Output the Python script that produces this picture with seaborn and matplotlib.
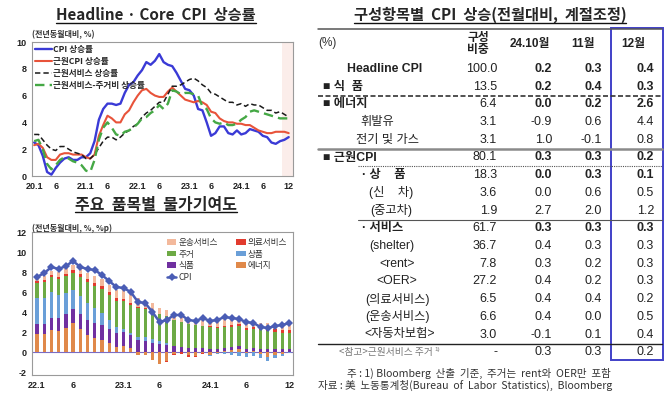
import numpy as np
import pandas as pd
import seaborn as sns
import matplotlib.pyplot as plt
from matplotlib.patches import Rectangle

sns.set_theme(style="white")
plt.rcParams['font.family'] = ['Liberation Sans', 'Noto Sans CJK KR', 'DejaVu Sans']
plt.rcParams['axes.unicode_minus'] = False
KR = ['Noto Sans CJK KR', 'DejaVu Sans']

# ---- top chart: YoY, 2020.1 ~ 2024.12
cpi_yoy = [2.5, 2.3, 1.5, 0.3, 0.1, 0.6, 1.0, 1.3, 1.4, 1.2, 1.2, 1.4,
           1.4, 1.7, 2.6, 4.2, 5.0, 5.4, 5.4, 5.3, 5.4, 6.2, 6.8, 7.0,
           7.5, 7.9, 8.5, 8.3, 8.6, 9.1, 8.5, 8.3, 8.2, 7.7, 7.1, 6.5,
           6.4, 6.0, 5.0, 4.9, 4.0, 3.0, 3.2, 3.7, 3.7, 3.2, 3.1, 3.4,
           3.1, 3.2, 3.5, 3.4, 3.3, 3.0, 2.9, 2.5, 2.4, 2.6, 2.7, 2.9]
core_yoy = [2.3, 2.4, 2.1, 1.4, 1.2, 1.2, 1.6, 1.7, 1.7, 1.6, 1.6, 1.6,
            1.4, 1.3, 1.6, 3.0, 3.8, 4.5, 4.3, 4.0, 4.0, 4.6, 4.9, 5.5,
            6.0, 6.4, 6.5, 6.2, 6.0, 5.9, 5.9, 6.3, 6.6, 6.3, 6.0, 5.7,
            5.6, 5.5, 5.6, 5.5, 5.3, 4.8, 4.7, 4.3, 4.1, 4.0, 4.0, 3.9,
            3.9, 3.8, 3.8, 3.6, 3.4, 3.3, 3.2, 3.2, 3.3, 3.3, 3.3, 3.2]
coresvc_yoy = [3.1, 3.1, 2.7, 2.3, 2.0, 1.9, 2.2, 2.2, 2.0, 1.8, 1.7, 1.6,
               1.3, 1.3, 1.6, 2.1, 2.6, 2.9, 2.9, 2.7, 2.9, 3.2, 3.4, 3.7,
               3.9, 4.4, 4.7, 4.9, 5.2, 5.5, 5.5, 6.1, 6.7, 6.7, 6.8, 7.0,
               7.2, 7.3, 7.1, 6.8, 6.6, 6.2, 6.1, 5.9, 5.7, 5.5, 5.5, 5.3,
               5.4, 5.2, 5.4, 5.3, 5.3, 5.1, 4.9, 4.9, 4.7, 4.8, 4.6, 4.4]
supercore_yoy = [2.6, 2.7, 2.0, 0.9, 0.5, 0.8, 1.2, 1.4, 1.3, 1.1, 1.0, 0.8,
                 0.4, 0.3, 1.2, 2.7, 3.6, 4.0, 3.6, 3.1, 3.0, 3.3, 3.4, 3.6,
                 3.9, 4.3, 4.4, 4.7, 4.9, 5.3, 5.0, 5.4, 6.4, 6.3, 6.1, 6.2,
                 6.2, 6.1, 6.0, 5.2, 5.0, 4.3, 4.0, 3.9, 4.0, 3.8, 3.8, 3.9,
                 4.2, 4.4, 4.8, 4.9, 4.8, 4.7, 4.6, 4.5, 4.4, 4.3, 4.3, 4.3]
top_ticks = ["20.1", "6", "21.1", "6", "22.1", "6", "23.1", "6", "24.1", "6", "12"]

# ---- bottom chart: contributions, 2022.1 ~ 2024.12
energy_c = [1.8, 1.8, 2.2, 2.1, 2.4, 2.9, 2.3, 1.7, 1.4, 1.2, 0.9, 0.5,
            0.6, 0.4, -0.3, -0.3, -0.8, -1.2, -0.9, -0.2, 0.0, -0.3, -0.4, -0.1,
            -0.3, -0.1, 0.1, 0.2, 0.3, -0.1, 0.1, -0.2, -0.5, -0.3, -0.2, 0.0]
food_c = [1.0, 1.0, 1.2, 1.3, 1.4, 1.4, 1.5, 1.5, 1.5, 1.5, 1.4, 1.4,
          1.4, 1.3, 1.2, 1.1, 0.9, 0.8, 0.7, 0.6, 0.5, 0.45, 0.4, 0.4,
          0.35, 0.3, 0.3, 0.3, 0.3, 0.3, 0.3, 0.3, 0.3, 0.3, 0.3, 0.35]
goods_c = [2.6, 2.6, 2.6, 2.3, 2.1, 1.9, 1.8, 1.7, 1.5, 1.2, 0.9, 0.6,
           0.3, 0.2, 0.3, 0.4, 0.4, 0.3, 0.2, 0.05, 0.0, 0.0, 0.0, 0.05,
           -0.05, -0.1, -0.15, -0.25, -0.35, -0.4, -0.4, -0.4, -0.4, -0.3, -0.2, -0.1]
shelter_c = [1.5, 1.6, 1.5, 1.6, 1.7, 1.7, 1.9, 2.1, 2.2, 2.4, 2.5, 2.6,
             2.8, 2.8, 2.9, 2.8, 2.8, 2.7, 2.7, 2.6, 2.5, 2.4, 2.3, 2.2,
             2.2, 2.1, 2.1, 2.0, 2.0, 1.9, 1.9, 1.9, 1.8, 1.7, 1.6, 1.6]
medical_c = [0.17, 0.16, 0.19, 0.22, 0.25, 0.28, 0.3, 0.33, 0.35, 0.33, 0.3, 0.27,
             0.22, 0.18, 0.1, 0.06, 0.04, 0.0, -0.05, -0.1, -0.15, -0.15, -0.1, -0.05,
             0.05, 0.1, 0.14, 0.18, 0.2, 0.22, 0.22, 0.2, 0.25, 0.27, 0.28, 0.28]
transport_c = [0.3, 0.4, 0.45, 0.5, 0.55, 0.55, 0.55, 0.6, 0.65, 0.7, 0.75, 0.8,
               0.9, 0.95, 0.95, 0.75, 0.75, 0.6, 0.6, 0.65, 0.6, 0.6, 0.65, 0.65,
               0.65, 0.6, 0.7, 0.7, 0.65, 0.65, 0.6, 0.5, 0.55, 0.5, 0.45, 0.5]
cpi_c = cpi_yoy[24:]
bot_ticks = ["22.1", "6", "23.1", "6", "24.1", "6", "12"]

# ---- table
row_labels = ["Headline CPI", "■ 식  품", "■ 에너지", "휘발유", "전기 및 가스", "■ 근원CPI",
              "· 상    품", "(신    차)", "(중고차)", "· 서비스", "(shelter)", "<rent>", "<OER>",
              "(의료서비스)", "(운송서비스)", "<자동차보험>", "<참고>근원서비스 주거"]
weights = ["100.0", "13.5", "6.4", "3.1", "3.1", "80.1", "18.3", "3.6", "1.9", "61.7",
           "36.7", "7.8", "27.2", "6.5", "6.6", "3.0", "-"]
m_oct = [0.2, 0.2, 0.0, -0.9, 1.0, 0.3, 0.0, 0.0, 2.7, 0.3, 0.4, 0.3, 0.4, 0.4, 0.4, -0.1, 0.3]
m_nov = [0.3, 0.4, 0.2, 0.6, -0.1, 0.3, 0.3, 0.6, 2.0, 0.3, 0.3, 0.2, 0.2, 0.4, 0.0, 0.1, 0.3]
m_dec = [0.4, 0.3, 2.6, 4.4, 0.8, 0.2, 0.1, 0.5, 1.2, 0.3, 0.3, 0.3, 0.3, 0.2, 0.5, 0.4, 0.2]
bold_rows = [0, 1, 2, 5, 6, 9]
col_heads = ["24.10월", "11월", "12월"]

W, H = 670, 393
fig = plt.figure(figsize=(W / 100, H / 100), dpi=100)


def rect(l, t, r, b):
    return [l / W, 1 - b / H, (r - l) / W, (b - t) / H]


def style_axes(ax):
    for s in ax.spines.values():
        s.set_color('#9a9a9a')
        s.set_linewidth(0.8)
    ax.tick_params(axis='both', labelsize=6.5, length=2, width=0.6, color='#9a9a9a',
                   pad=2, labelcolor='#222222')
    for lab in ax.get_xticklabels() + ax.get_yticklabels():
        lab.set_fontweight('bold')
    ax.set_xlabel('')
    ax.set_ylabel('')


# ===== top chart
ax1 = fig.add_axes(rect(32, 42, 293, 176))
df1 = pd.DataFrame({'m': np.arange(len(cpi_yoy)), 'cpi': cpi_yoy, 'core': core_yoy,
                    'svc': coresvc_yoy, 'sup': supercore_yoy})
ax1.axvspan(57.5, 60, color='#FBEDEA', lw=0, zorder=0)
sns.lineplot(data=df1, x='m', y='cpi', color='#3A3AD6', lw=1.7, label='CPI 상승률', ax=ax1)
sns.lineplot(data=df1, x='m', y='core', color='#E8533A', lw=1.5, label='근원CPI 상승률', ax=ax1)
sns.lineplot(data=df1, x='m', y='svc', color='#1a1a1a', lw=1.1, linestyle=(0, (3.5, 2)),
             label='근원서비스 상승률', ax=ax1)
sns.lineplot(data=df1, x='m', y='sup', color='#45A845', lw=1.7, linestyle=(0, (4, 2.2)),
             label='근원서비스-주거비 상승률', ax=ax1)
ax1.set_xlim(-0.5, 60)
ax1.set_ylim(0, 10)
ax1.set_xticks([0, 5, 12, 17, 24, 29, 36, 41, 48, 53, 59])
ax1.set_xticklabels(top_ticks)
ax1.set_yticks(range(0, 11, 2))
style_axes(ax1)
leg1 = ax1.legend(loc='upper left', bbox_to_anchor=(0.0, 1.0), frameon=False, fontsize=6.2,
                  handlelength=2.0, handletextpad=0.1, labelspacing=0.35, borderaxespad=0.15,
                  borderpad=0.2)
for t in leg1.get_texts():
    t.set_family(KR)
    t.set_fontweight('bold')

# ===== bottom chart
ax2 = fig.add_axes(rect(32, 232, 293, 375))
m2 = np.arange(len(cpi_c))
parts = [(energy_c, '에너지', '#E0894A'), (food_c, '식품', '#7030A0'),
         (goods_c, '상품', '#6A9FD8'), (shelter_c, '주거', '#6DAA45'),
         (medical_c, '의료서비스', '#E23B2E'), (transport_c, '운송서비스', '#F3B99C')]
pos = np.zeros(len(m2))
neg = np.zeros(len(m2))
for vals, name, col in parts:
    v = np.array(vals)
    bottom = np.where(v >= 0, pos, neg)
    sns.barplot(x=m2, y=v, bottom=bottom, color=col, width=0.45, linewidth=0, saturation=1,
                errorbar=None, native_scale=True, label=name, ax=ax2, zorder=2)
    pos += np.where(v >= 0, v, 0)
    neg += np.where(v < 0, v, 0)
ax2.axhline(0, color='#7B6CC4', lw=0.8, zorder=1)
sns.lineplot(x=m2, y=cpi_c, color='#4A5DB5', lw=1.8, marker='D', markersize=3.6,
             markeredgewidth=0, label='CPI', ax=ax2, zorder=3)
ax2.set_xlim(-0.7, 35.5)
ax2.set_ylim(-2.3, 12)
ax2.set_xticks([0, 5, 12, 17, 24, 29, 35])
ax2.set_xticklabels(bot_ticks)
ax2.set_yticks(range(-2, 13, 2))
style_axes(ax2)
hs, ls = ax2.get_legend_handles_labels()
hmap = dict(zip(ls, hs))
order = ['운송서비스', '주거', '식품', 'CPI', '의료서비스', '상품', '에너지']
leg2 = ax2.legend([hmap[k] for k in order], order, loc='upper right', bbox_to_anchor=(1.0, 1.0),
                  ncol=2, frameon=False, fontsize=6.2, handlelength=1.1, handleheight=0.6,
                  handletextpad=0.2, labelspacing=0.3, columnspacing=2.2, borderaxespad=0.3)
for t in leg2.get_texts():
    t.set_family(KR)
    t.set_color('#333333')

# ===== overlay for titles and table
ax_t = fig.add_axes([0, 0, 1, 1])
ax_t.set_xlim(0, W)
ax_t.set_ylim(H, 0)
ax_t.axis('off')

titles = [
    ax_t.text(156, 15, "Headline · Core  CPI  상승률", ha='center', va='center', fontsize=11,
              fontweight='bold', family=KR),
    ax_t.text(156, 205, "주요  품목별  물가기여도", ha='center', va='center', fontsize=11.5,
              fontweight='bold', family=KR),
    ax_t.text(490, 15, "구성항목별  CPI  상승(전월대비,  계절조정)", ha='center', va='center',
              fontsize=11, fontweight='bold', family=KR),
]
ax_t.text(32, 35, "(전년동월대비, %)", ha='left', va='center', fontsize=5.8,
          fontweight='bold', family=KR, color='#333333')
ax_t.text(32, 228, "(전년동월대비, %, %p)", ha='left', va='center', fontsize=5.8,
          fontweight='bold', family=KR, color='#333333')

# table header
ax_t.text(318, 43, "(%)", ha='left', va='center', fontsize=8.5, color='#333333')
ax_t.text(478, 43, "구성\n비중", ha='center', va='center', fontsize=8.5, fontweight='bold',
          family=KR, linespacing=0.9, color='#222222')
for x, h in zip([530, 583, 633], col_heads):
    ax_t.text(x, 44, h, ha='center', va='center', fontsize=8.5, fontweight='bold',
              color='#222222')

# label placement: (align, x)
label_pos = [('center', 385), ('left', 323), ('left', 323), ('center', 377), ('center', 388),
             ('left', 323), ('left', 362), ('center', 391), ('center', 391), ('left', 362),
             ('center', 392), ('center', 397), ('center', 397), ('center', 398),
             ('center', 398), ('center', 400), ('right', 433)]
last = len(row_labels) - 1
for i, lab in enumerate(row_labels):
    y = 69 + 17.7 * i
    b = 'bold' if i in bold_rows else 'normal'
    ha, x = label_pos[i]
    if i == last:
        ax_t.text(x, y, lab, ha=ha, va='center', fontsize=7, family=KR, color='#777777')
        ax_t.text(x + 1, y - 3, "1)", ha='left', va='center', fontsize=4.5, color='#777777')
    else:
        ax_t.text(x, y, lab, ha=ha, va='center', fontsize=8.8, fontweight=b, color='#222222')
    ax_t.text(497, y, weights[i], ha='right', va='center', fontsize=9, color='#222222')
    for x_r, vals in zip([552, 602, 654], [m_oct, m_nov, m_dec]):
        ax_t.text(x_r, y, f"{vals[i]:.1f}", ha='right', va='center', fontsize=9,
                  fontweight=b, color='#222222')

ax_t.plot([318, 662], [29, 29], color='#555555', lw=1.1)
ax_t.plot([318, 662], [95.5, 95.5], color='#333333', lw=1.2, linestyle=(0, (3, 1.5)))
ax_t.plot([318, 662], [149, 149], color='#8a8a8a', lw=1.8)
ax_t.plot([358, 662], [166, 166], color='#555555', lw=0.8, linestyle=(0, (1, 1)))
ax_t.plot([358, 662], [220, 220], color='#555555', lw=0.8)
ax_t.plot([318, 662], [343.5, 343.5], color='#222222', lw=1.0)
ax_t.add_patch(Rectangle((611, 28), 52, 332, fill=False, edgecolor='#4040C8', lw=1.4))

ax_t.text(347, 373, "주 : 1) Bloomberg  산출  기준,  주거는  rent와  OER만  포함", ha='left',
          va='center', fontsize=7.6, family=KR, color='#333333')
ax_t.text(318, 385, "자료 : 美  노동통계청(Bureau  of  Labor  Statistics),  Bloomberg", ha='left',
          va='center', fontsize=7.6, family=KR, color='#333333')

# underline the titles
fig.canvas.draw()
r = fig.canvas.get_renderer()
inv = ax_t.transData.inverted()
for t in titles:
    bb = t.get_window_extent(r)
    x0, y0 = inv.transform((bb.x0, bb.y0))
    x1, _ = inv.transform((bb.x1, bb.y0))
    ax_t.plot([x0, x1], [y0 - 0.5, y0 - 0.5], color='#111111', lw=1.0)

fig.savefig("out.png", dpi=100)
